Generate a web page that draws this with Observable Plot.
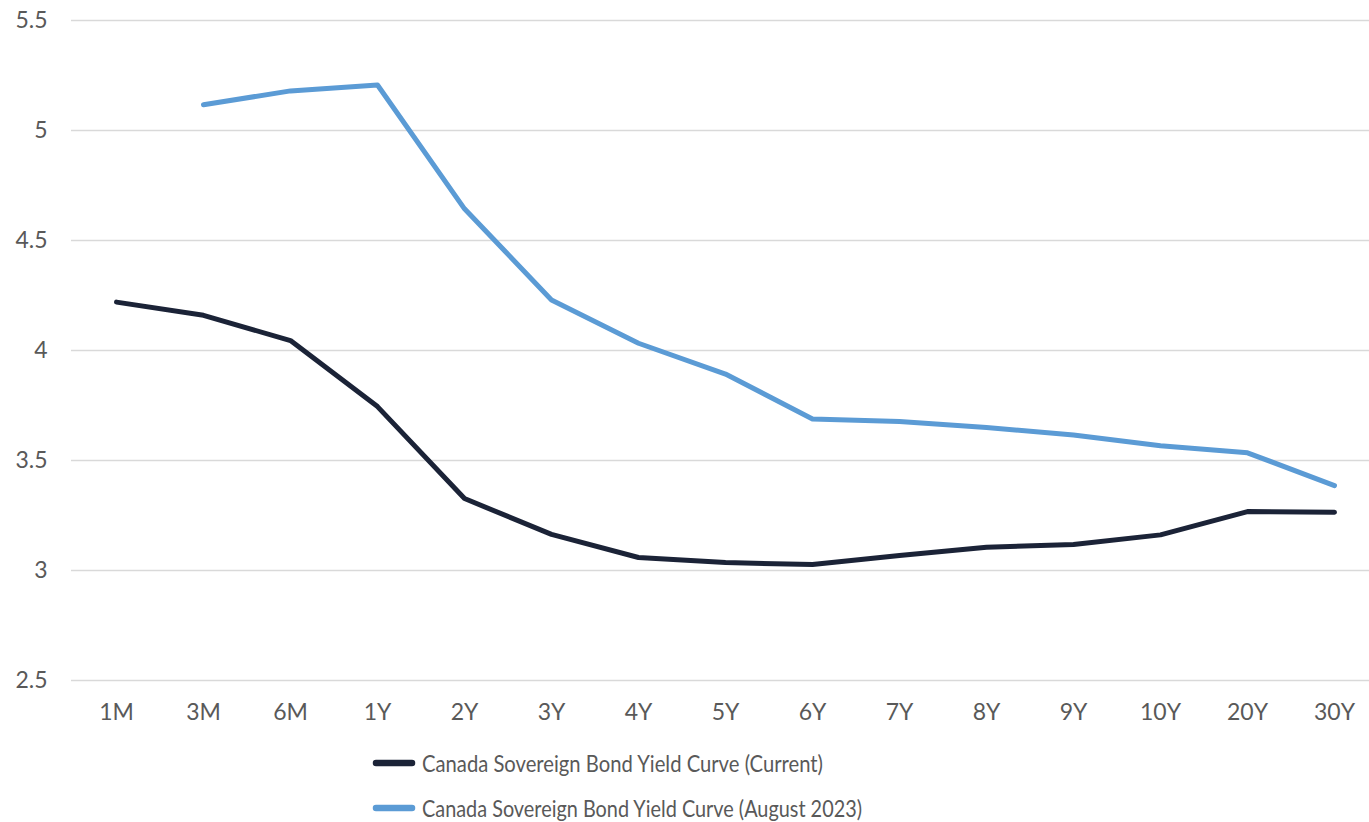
<!DOCTYPE html>
<html>
<head>
<meta charset="utf-8">
<script src="https://cdn.jsdelivr.net/npm/d3@7"></script>
<script src="https://cdn.jsdelivr.net/npm/@observablehq/plot@0.6"></script>
<style>
  html, body { margin: 0; padding: 0; background: #ffffff; }
  #chart svg { display: block; }
  #legend { display: block; }
</style>
</head>
<body>
<div id="chart"></div>
<svg id="legend" width="1369" height="87"></svg>
<script>
const tenors = ["1M","3M","6M","1Y","2Y","3Y","4Y","5Y","6Y","7Y","8Y","9Y","10Y","20Y","30Y"];
const currentYields = [4.22, 4.16, 4.045, 3.745, 3.327, 3.164, 3.059, 3.036, 3.027, 3.068, 3.106, 3.118, 3.162, 3.268, 3.265];
const aug2023Yields = [null, 5.117, 5.18, 5.207, 4.644, 4.23, 4.033, 3.893, 3.689, 3.677, 3.65, 3.616, 3.567, 3.535, 3.386];
const yTicks = [2.5, 3, 3.5, 4, 4.5, 5, 5.5];
const seriesNames = ["Canada Sovereign Bond Yield Curve (Current)", "Canada Sovereign Bond Yield Curve (August 2023)"];
const seriesColors = ["#1b2337", "#5b9bd5"];

const currentData = tenors.map((t, i) => ({tenor: t, value: currentYields[i]}));
const augData = tenors.map((t, i) => ({tenor: t, value: aug2023Yields[i]}));

const FONT = "Lato, 'DejaVu Sans', sans-serif";

const plot = Plot.plot({
  width: 1369,
  height: 735,
  marginTop: 20,
  marginBottom: 55,
  marginLeft: 71,
  marginRight: 0,
  style: {fontFamily: FONT, fontSize: "23px", color: "#595959", background: "#ffffff"},
  x: {type: "point", domain: tenors, range: [116, 1334], padding: 0, label: null},
  y: {domain: [2.5, 5.5], label: null},
  marks: [
    Plot.gridY(yTicks, {stroke: "#d9d9d9", strokeOpacity: 1, strokeWidth: 1.5}),
    Plot.axisY(yTicks, {tickSize: 0, tickPadding: 24, label: null, fill: "#595959", fontSize: 23, tickFormat: d => String(d)}),
    Plot.axisX({tickSize: 0, tickPadding: 23, label: null, fill: "#595959", fontSize: 23}),
    Plot.line(currentData, {x: "tenor", y: "value", stroke: seriesColors[0], strokeWidth: 5, strokeLinecap: "round", strokeLinejoin: "round"}),
    Plot.line(augData, {x: "tenor", y: "value", stroke: seriesColors[1], strokeWidth: 5, strokeLinecap: "round", strokeLinejoin: "round"})
  ]
});
document.getElementById("chart").appendChild(plot);

// Legend
const legend = d3.select("#legend");
const legendRows = [
  {name: seriesNames[0], color: seriesColors[0], cy: 28, len: 401},
  {name: seriesNames[1], color: seriesColors[1], cy: 73, len: 440}
];
legendRows.forEach(r => {
  legend.append("line")
    .attr("x1", 376).attr("x2", 412)
    .attr("y1", r.cy).attr("y2", r.cy)
    .attr("stroke", r.color).attr("stroke-width", 6.5).attr("stroke-linecap", "round");
  legend.append("text")
    .attr("x", 422).attr("y", r.cy + 9)
    .attr("font-family", FONT).attr("font-size", 23).attr("fill", "#595959")
    .attr("textLength", r.len).attr("lengthAdjust", "spacingAndGlyphs")
    .text(r.name);
});
</script>
</body>
</html>
